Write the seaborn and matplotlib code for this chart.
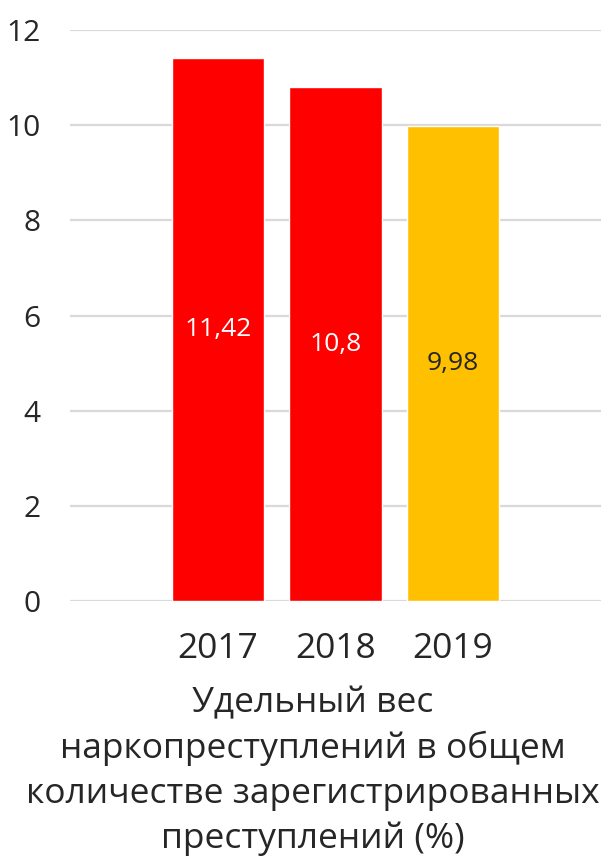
import matplotlib
matplotlib.use("Agg")
import matplotlib.pyplot as plt
import seaborn as sns
import pandas as pd

years = ["2017", "2018", "2019"]
shares = [11.42, 10.8, 9.98]
bar_colors = ["#FF0000", "#FF0000", "#FFC000"]
label_colors = ["white", "white", "#262626"]
y_ticks = [0, 2, 4, 6, 8, 10, 12]
caption = "Удельный вес\nнаркопреступлений в общем\nколичестве зарегистрированных\nпреступлений (%)"

sns.set_theme(style="white")
plt.rcParams["font.family"] = ["Open Sans", "DejaVu Sans"]

df = pd.DataFrame({"year": years, "share": shares})

fig = plt.figure(figsize=(6.10, 8.56), dpi=100)
ax = fig.add_axes([70 / 610, 1 - 601 / 856, (601 - 70) / 610, (601 - 30) / 856])

sns.barplot(data=df, x="year", y="share", hue="year", palette=bar_colors,
            legend=False, width=0.79, saturation=1, ax=ax, zorder=3)

ax.set_ylim(0, 12)
ax.set_xlim(-1.26, 3.26)
ax.set_yticks(y_ticks)
ax.set_yticklabels([str(t) for t in y_ticks])
ax.yaxis.grid(True, color="#d9d9d9", linewidth=1.6, zorder=0)
ax.set_axisbelow(True)
for s in ax.spines.values():
    s.set_visible(False)

ax.tick_params(axis="y", length=0, pad=21, labelsize=21.5, labelcolor="#262626")
ax.tick_params(axis="x", length=0, pad=22, labelsize=25.5, labelcolor="#262626")
ax.set_xlabel("")
ax.set_ylabel("")

for container, val, col in zip(ax.containers, shares, label_colors):
    ax.bar_label(container, labels=[f"{val:g}".replace(".", ",")],
                 label_type="center", color=col, fontsize=19)

fig.text(0.512, 1 - 686 / 856, caption, ha="center", va="top", fontsize=25.5,
         color="#262626", linespacing=1.4)

fig.savefig("out.png", dpi=100, facecolor="white")
